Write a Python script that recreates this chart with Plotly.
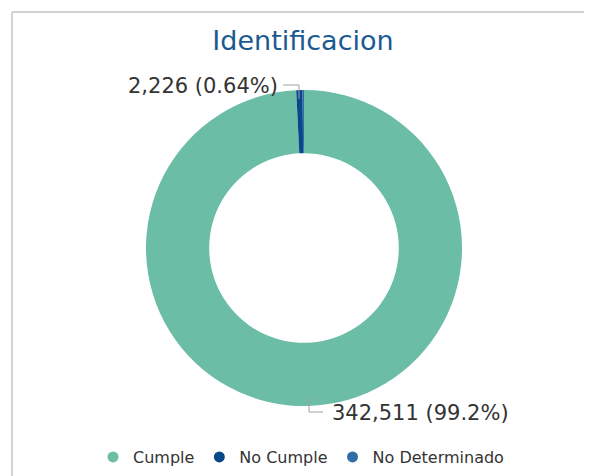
import plotly.graph_objects as go

# ---- data ----
title_text = "Identificacion"
categories = ["Cumple", "No Cumple", "No Determinado"]
values = [342511, 2226, 500]
colors = ["#6bbda6", "#08478a", "#2f6da3"]
labeled = [True, True, False]

# page body has an 8px margin; size the figure to fit the window
OFF = 8
W, H = 592 - OFF, 476 - OFF
FONT = "DejaVu Sans, Verdana, sans-serif"


def px(x):
    return (x - OFF) / W


def py(y):
    return 1 - (y - OFF) / H


total = sum(values)


def fmt_pct(v):
    p = v / total * 100
    return f"{p:.1f}%" if p >= 10 else f"{p:.2f}%"


def fmt_label(v):
    return f"{v:,} ({fmt_pct(v)})"


fig = go.Figure()

fig.add_trace(go.Pie(
    labels=categories,
    values=values,
    hole=0.6,
    sort=False,
    direction="clockwise",
    rotation=0,
    marker=dict(colors=colors, line=dict(width=0)),
    textinfo="none",
    hoverinfo="label+value+percent",
    showlegend=False,
    domain=dict(x=[px(146), px(462)], y=[py(248 + 158), py(248 - 158)]),
))

# legend entries with circle symbols
for name, col in zip(categories, colors):
    fig.add_trace(go.Scatter(
        x=[None], y=[None], mode="markers", name=name,
        marker=dict(symbol="circle", size=11, color=col),
        showlegend=True, hoverinfo="skip",
    ))

# outside labels with elbow leader lines
label_pos = {
    1: dict(x=px(280), y=py(86), xanchor="right",
            path=[(283, 85), (299, 85), (299, 99)]),
    0: dict(x=px(330), y=py(413), xanchor="left",
            path=[(309, 397), (309, 412), (323, 412)]),
}
for i, v in enumerate(values):
    if not labeled[i] or i not in label_pos:
        continue
    lp = label_pos[i]
    fig.add_annotation(
        x=lp["x"], y=lp["y"], xref="paper", yref="paper",
        xanchor=lp["xanchor"], yanchor="middle",
        text=fmt_label(v), showarrow=False,
        font=dict(family=FONT, size=21, color="#333333"),
    )
    pts = lp["path"]
    d = "M " + " L ".join(f"{px(a)},{py(b)}" for a, b in pts)
    fig.add_shape(type="path", path=d, xref="paper", yref="paper",
                  line=dict(color="#a0a0a0", width=1))

# outer frame (top and left edges visible)
fig.add_shape(type="line", xref="paper", yref="paper",
              x0=px(12), y0=py(12), x1=1.1, y1=py(12),
              line=dict(color="#d3d3d3", width=2), layer="below")
fig.add_shape(type="line", xref="paper", yref="paper",
              x0=px(12), y0=py(12), x1=px(12), y1=-0.1,
              line=dict(color="#d3d3d3", width=2), layer="below")

fig.update_layout(
    width=W, height=H,
    margin=dict(l=0, r=0, t=0, b=0),
    paper_bgcolor="white",
    plot_bgcolor="white",
    title=dict(text=title_text, x=px(303), xanchor="center",
               y=py(41), yanchor="middle", yref="container",
               font=dict(family=FONT, size=27, color="#1b5a91")),
    xaxis=dict(visible=False),
    yaxis=dict(visible=False),
    legend=dict(orientation="h", x=px(301), xanchor="center",
                y=py(457), yanchor="middle",
                font=dict(family=FONT, size=16, color="#333333"),
                itemwidth=30, bgcolor="rgba(0,0,0,0)"),
    font=dict(family=FONT),
)

fig.write_html("out.html")
